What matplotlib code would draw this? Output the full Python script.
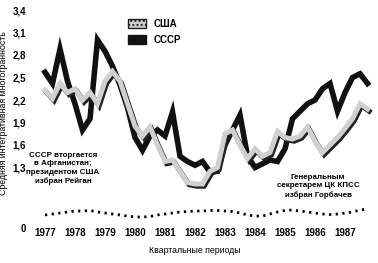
import matplotlib
matplotlib.use("Agg")
import matplotlib.pyplot as plt
import matplotlib.patheffects as pe
from matplotlib.patches import Patch

plt.rcParams['font.family'] = ['Liberation Sans Narrow', 'Liberation Sans', 'DejaVu Sans']
plt.rcParams['font.weight'] = 'bold'

# кварталы 1977 Q1 .. 1987 Q4
quarters = list(range(44))
years = ['1977', '1978', '1979', '1980', '1981', '1982', '1983', '1984', '1985', '1986', '1987']
year_pos = [0, 4, 8, 12, 16, 20, 24, 28, 32, 36, 40]

usa = [2.33, 2.22, 2.42, 2.30, 2.35, 2.20, 2.30, 2.15, 2.45, 2.58, 2.45, 2.15,
       1.85, 1.72, 1.84, 1.60, 1.38, 1.40, 1.25, 1.10, 1.08, 1.08, 1.25, 1.30,
       1.75, 1.80, 1.60, 1.42, 1.55, 1.45, 1.50, 1.78, 1.70, 1.68, 1.72, 1.84,
       1.65, 1.50, 1.60, 1.70, 1.82, 1.95, 2.15, 2.08]
ussr = [2.57, 2.42, 2.88, 2.45, 2.15, 1.80, 1.95, 3.00, 2.85, 2.65, 2.40, 2.10,
        1.70, 1.53, 1.72, 1.80, 1.72, 2.04, 1.45, 1.38, 1.33, 1.38, 1.24, 1.25,
        1.60, 1.80, 2.00, 1.45, 1.30, 1.35, 1.40, 1.38, 1.55, 1.95, 2.05, 2.15,
        2.20, 2.35, 2.42, 2.05, 2.30, 2.50, 2.55, 2.42]
# нижняя пунктирная линия (в единицах оси, ниже разрыва)
base = [0.667, 0.68, 0.693, 0.707, 0.72, 0.72, 0.727, 0.707, 0.693, 0.68, 0.667, 0.653,
        0.64, 0.64, 0.647, 0.667, 0.68, 0.693, 0.707, 0.713, 0.72, 0.72, 0.727, 0.727,
        0.72, 0.713, 0.693, 0.667, 0.653, 0.653, 0.68, 0.707, 0.727, 0.733, 0.72, 0.707,
        0.693, 0.68, 0.673, 0.68, 0.693, 0.707, 0.733, 0.747]

ytick_pos = [0.493, 1.3, 1.6, 1.9, 2.2, 2.5, 2.8, 3.1, 3.4]
ytick_lab = ['0', '1,3', '1,6', '1,9', '2,2', '2,5', '2,8', '3,1', '3,4']

fig = plt.figure(figsize=(3.78, 2.63), dpi=100)
ax = fig.add_axes([36 / 378, 31 / 263, 340 / 378, 228 / 263])
ax.set_xlim(-1.2, 44.13)
ax.set_ylim(0.44, 3.48)

ax.plot(quarters, ussr, color='#111111', lw=4.0, solid_joinstyle='miter', zorder=2)
ax.plot(quarters, usa, color='#d0d0d0', lw=3.6, solid_joinstyle='miter', zorder=3,
        path_effects=[pe.SimpleLineShadow(offset=(1.2, -1.6), shadow_color='#222222', alpha=1.0),
                      pe.Normal()])
ax.plot(quarters, base, color='black', lw=2.0, linestyle=(0, (0.8, 1.6)), zorder=2)

for s in ax.spines.values():
    s.set_visible(False)
ax.set_yticks(ytick_pos)
ax.set_yticklabels(ytick_lab, fontsize=7)
ax.set_xticks(year_pos)
ax.set_xticklabels(years, fontsize=7)
ax.tick_params(length=0)
ax.tick_params(axis='x', pad=-3)
ax.tick_params(axis='y', pad=7)
ax.set_xlabel('Квартальные периоды', fontsize=6.3)
ax.xaxis.set_label_coords(0.468, -0.062)
ax.set_ylabel('Средняя интегративная многогранность', fontsize=6.3)
ax.yaxis.set_label_coords(-0.083, 0.52)

ax.text(2.4, 1.29, 'СССР вторгается\nв Афганистан;\nпрезидентом США\nизбран Рейган',
        ha='center', va='center', fontsize=5.8, linespacing=1.3)
ax.text(36.4, 1.05, 'Генеральным\nсекретарем ЦК КПСС\nизбран Горбачев',
        ha='center', va='center', fontsize=5.8, linespacing=1.35)

handles = [Patch(facecolor='#d0d0d0', edgecolor='#222222', hatch='....', lw=1.0),
           Patch(facecolor='#111111', edgecolor='#111111')]
fig.legend(handles, ['США', 'СССР'], loc='upper left', bbox_to_anchor=(119 / 378, 1 - 10 / 263),
           frameon=False, fontsize=7, handlelength=1.9, handleheight=1.1,
           labelspacing=0.6, handletextpad=0.8)

fig.savefig('out.png', dpi=100)
